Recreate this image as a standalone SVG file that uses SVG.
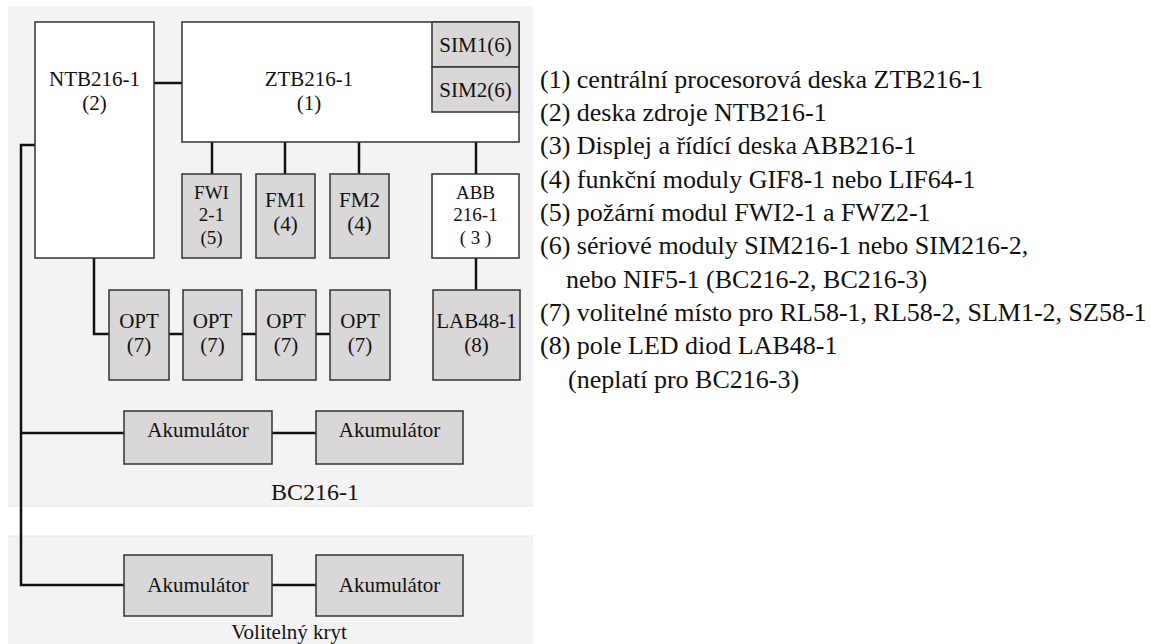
<svg xmlns="http://www.w3.org/2000/svg" width="1151" height="644" viewBox="0 0 1151 644">
<style>
.panel{fill:#f3f3f3}
.wbox{fill:#ffffff;stroke:#333;stroke-width:1.5}
.gbox{fill:#d9d7d8;stroke:#333;stroke-width:1.5}
.lbl{font-family:"Liberation Serif","Tinos","Times New Roman","Nimbus Roman","DejaVu Serif",serif;font-size:21px;fill:#111;text-anchor:middle}
.sm{font-size:19px}
.leg{font-family:"Liberation Serif","Tinos","Times New Roman","Nimbus Roman","DejaVu Serif",serif;font-size:26px;fill:#111}
.cap{font-family:"Liberation Serif","Tinos","Times New Roman","Nimbus Roman","DejaVu Serif",serif;font-size:24px;fill:#111;text-anchor:middle}
#connectors path,#connectors line{stroke:#111;stroke-width:2.5;fill:none}
</style>
<rect width="1151" height="644" fill="#ffffff"/>
<rect class="panel" x="8" y="6" width="525" height="500"/>
<rect class="panel" x="8" y="536" width="525" height="108"/>
<line x1="8" y1="506" x2="533" y2="506" stroke="#e6e6e6" stroke-width="1"/>
<line x1="8" y1="536" x2="533" y2="536" stroke="#e6e6e6" stroke-width="1"/>

<g id="connectors">
<line x1="154" y1="83" x2="182" y2="83"/>
<line x1="212" y1="142" x2="212" y2="174"/>
<line x1="285" y1="142" x2="285" y2="174"/>
<line x1="359" y1="142" x2="359" y2="174"/>
<line x1="476" y1="142" x2="476" y2="174"/>
<line x1="476" y1="258" x2="476" y2="290"/>
<path d="M94,258 V334 H109"/>
<line x1="169" y1="334" x2="183" y2="334"/>
<line x1="242" y1="334" x2="256" y2="334"/>
<line x1="316" y1="334" x2="330" y2="334"/>
<path d="M35,145 H21 V585 H124"/>
<line x1="21" y1="433" x2="124" y2="433"/>
<line x1="272" y1="433" x2="316" y2="433"/>
<line x1="272" y1="585" x2="316" y2="585"/>
</g>

<g id="ntb"><rect class="wbox" x="35" y="22" width="119" height="236"/>
<text class="lbl" x="94.5" y="86">NTB216-1</text><text class="lbl" x="94.5" y="110">(2)</text></g>
<g id="ztb"><rect class="wbox" x="182" y="22" width="337" height="120"/>
<text class="lbl" x="309" y="86">ZTB216-1</text><text class="lbl" x="309" y="110">(1)</text></g>
<g id="sim1"><rect class="gbox" x="432" y="22" width="87" height="45"/>
<text class="lbl" x="475.5" y="52">SIM1(6)</text></g>
<g id="sim2"><rect class="gbox" x="432" y="67" width="87" height="45"/>
<text class="lbl" x="475.5" y="97">SIM2(6)</text></g>

<g id="fwi"><rect class="gbox" x="182" y="174" width="59" height="84"/>
<text class="lbl sm" x="211.5" y="199">FWI</text><text class="lbl sm" x="211.5" y="221">2-1</text><text class="lbl sm" x="211.5" y="244">(5)</text></g>
<g id="fm1"><rect class="gbox" x="256" y="174" width="59" height="84"/>
<text class="lbl" x="285.5" y="207">FM1</text><text class="lbl" x="285.5" y="231">(4)</text></g>
<g id="fm2"><rect class="gbox" x="330" y="174" width="59" height="84"/>
<text class="lbl" x="359.5" y="207">FM2</text><text class="lbl" x="359.5" y="231">(4)</text></g>
<g id="abb"><rect class="wbox" x="432" y="174" width="87" height="84"/>
<text class="lbl sm" x="475.5" y="199">ABB</text><text class="lbl sm" x="475.5" y="221">216-1</text><text class="lbl sm" x="475.5" y="244">( 3 )</text></g>

<g id="opt1"><rect class="gbox" x="109" y="290" width="60" height="90"/>
<text class="lbl" x="139" y="328">OPT</text><text class="lbl" x="139" y="352">(7)</text></g>
<g id="opt2"><rect class="gbox" x="183" y="290" width="59" height="90"/>
<text class="lbl" x="212.5" y="328">OPT</text><text class="lbl" x="212.5" y="352">(7)</text></g>
<g id="opt3"><rect class="gbox" x="256" y="290" width="60" height="90"/>
<text class="lbl" x="286" y="328">OPT</text><text class="lbl" x="286" y="352">(7)</text></g>
<g id="opt4"><rect class="gbox" x="330" y="290" width="60" height="90"/>
<text class="lbl" x="360" y="328">OPT</text><text class="lbl" x="360" y="352">(7)</text></g>
<g id="lab"><rect class="gbox" x="433" y="290" width="87" height="90"/>
<text class="lbl" x="476.5" y="328">LAB48-1</text><text class="lbl" x="476.5" y="352">(8)</text></g>

<g id="acc1"><rect class="gbox" x="124" y="411" width="148" height="53"/>
<text class="lbl" x="198" y="437">Akumulátor</text></g>
<g id="acc2"><rect class="gbox" x="316" y="411" width="147" height="53"/>
<text class="lbl" x="389.5" y="437">Akumulátor</text></g>
<text class="cap" x="315" y="500">BC216-1</text>

<g id="acc3"><rect class="gbox" x="124" y="555" width="148" height="61"/>
<text class="lbl" x="198" y="592">Akumulátor</text></g>
<g id="acc4"><rect class="gbox" x="316" y="555" width="147" height="61"/>
<text class="lbl" x="389.5" y="592">Akumulátor</text></g>
<text class="lbl" x="289" y="639">Volitelný kryt</text>

<g id="legend">
<text class="leg" x="540" y="88">(1) centrální procesorová deska ZTB216-1</text>
<text class="leg" x="540" y="121">(2) deska zdroje NTB216-1</text>
<text class="leg" x="540" y="154">(3) Displej a řídící deska ABB216-1</text>
<text class="leg" x="540" y="188">(4) funkční moduly  GIF8-1 nebo LIF64-1</text>
<text class="leg" x="540" y="221">(5) požární modul FWI2-1 a FWZ2-1</text>
<text class="leg" x="540" y="254">(6) sériové moduly SIM216-1 nebo SIM216-2,</text>
<text class="leg" x="566" y="288">nebo NIF5-1 (BC216-2, BC216-3)</text>
<text class="leg" x="540" y="321">(7) volitelné místo pro RL58-1, RL58-2, SLM1-2, SZ58-1</text>
<text class="leg" x="540" y="354">(8) pole LED diod LAB48-1</text>
<text class="leg" x="568" y="388">(neplatí pro BC216-3)</text>
</g>
</svg>
